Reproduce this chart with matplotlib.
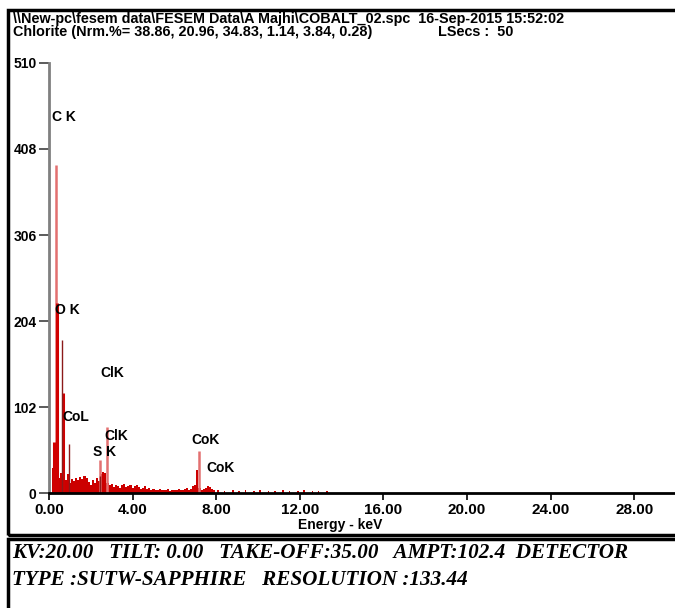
import numpy as np
import matplotlib
matplotlib.use('Agg')
import matplotlib.pyplot as plt
from matplotlib.patches import Rectangle

# 배경 스펙트럼 (0.2 keV부터 0.1 keV 간격)
bg_start = 0.2
bg_counts = [30, 25, 22, 18, 24, 20, 16, 22, 12, 17,
             14, 18, 15, 19, 17, 20, 18, 13, 10, 16,
             12, 18, 14, 22, 25, 24, 12, 9, 11, 7,
             10, 8, 6, 9, 11, 7, 8, 10, 6, 8,
             9, 7, 5, 6, 8, 5, 6, 4, 5, 3,
             4, 5, 3, 4, 3, 5, 2, 4, 3, 4,
             5, 3, 4, 5, 6, 4, 5, 8, 10, 27,
             6, 4, 5, 6, 8, 7, 5, 3]
tail_kev = [8.1, 8.4, 8.8, 9.1, 9.4, 9.8, 10.1, 10.5, 10.8, 11.2, 11.5, 11.9, 12.2, 12.6, 12.9, 13.3]
tail_counts = [3, 2, 3, 2, 3, 2, 3, 2, 2, 3, 2, 2, 3, 2, 2, 2]

# 피크 (밝은 빨강, 진한 빨강, 어두운 선)
light_kev = [0.35, 2.44, 2.78, 7.16]
light_counts = [389, 39, 78, 50]
red_kev = [0.24, 0.40, 0.69]
red_counts = [60, 225, 119]
dark_kev = [0.64, 0.96, 2.44]
dark_counts = [181, 58, 20]

# 원소 라벨
labels = ['C K', 'O K', 'ClK', 'CoL', 'ClK', 'S K', 'CoK', 'CoK']
label_x = [0.14, 0.29, 2.44, 0.62, 2.63, 2.10, 6.79, 7.51]
label_y = [446, 217, 142, 90, 68, 49, 63, 30]

yticks = [0, 102, 204, 306, 408, 510]
xticks = [0, 4, 8, 12, 16, 20, 24, 28]

fig = plt.figure(figsize=(6.75, 6.08), dpi=100)
ax = fig.add_axes([49 / 675, 0.1891, 627 / 675, 0.7073])

bg_kev = bg_start + 0.1 * np.arange(len(bg_counts))
ax.bar(bg_kev, bg_counts, width=0.1, align='center', color='#cc0000', linewidth=0)
ax.bar(tail_kev, tail_counts, width=0.08, color='#cc0000', linewidth=0)
ax.vlines(light_kev, 0, light_counts, color='#e37070', linewidth=1.8)
ax.vlines(red_kev, 0, red_counts, color='#d00000', linewidth=2.2)
ax.vlines(dark_kev, 0, dark_counts, color='#8b1a1a', linewidth=1.0)

for t, x, y in zip(labels, label_x, label_y):
    ax.text(x, y, t, fontsize=10, fontweight='bold', family='Liberation Sans', va='center', ha='left')

ax.set_xlim(0, 30)
ax.set_ylim(0, 510)
ax.set_xticks(xticks)
ax.set_xticklabels(['%.2f' % v for v in xticks])
ax.set_yticks(yticks)
ax.set_yticklabels([str(v) for v in yticks])
for lab in ax.get_xticklabels():
    lab.set_fontweight('bold')
    lab.set_family('Liberation Sans')
    lab.set_fontsize(11)
for lab in ax.get_yticklabels():
    lab.set_fontweight('bold')
    lab.set_family('Liberation Sans')
    lab.set_fontsize(10)
ax.tick_params(axis='x', direction='out', length=5, width=1.2, pad=2)
ax.tick_params(axis='y', direction='out', length=7, width=1.2, pad=2, color='#404040')
ax.spines['top'].set_visible(False)
ax.spines['right'].set_visible(False)
ax.spines['left'].set_color('#808080')
ax.spines['left'].set_linewidth(2)
ax.spines['bottom'].set_linewidth(2)
ax.patch.set_alpha(0)

fig.text(340 / 675, 1 - 525 / 608, 'Energy - keV', fontsize=10, fontweight='bold',
         family='Liberation Sans', ha='center', va='center')

# 머리글
fig.text(13 / 675, 1 - 19 / 608, r'\\New-pc\fesem data\FESEM Data\A Majhi\COBALT_02.spc  16-Sep-2015 15:52:02',
         fontsize=10.4, fontweight='bold', family='Liberation Sans', va='center')
fig.text(13 / 675, 1 - 32 / 608, 'Chlorite (Nrm.%= 38.86, 20.96, 34.83, 1.14, 3.84, 0.28)',
         fontsize=10.4, fontweight='bold', family='Liberation Sans', va='center')
fig.text(438 / 675, 1 - 32 / 608, 'LSecs :  50',
         fontsize=10.4, fontweight='bold', family='Liberation Sans', va='center')

# 테두리
fig.add_artist(Rectangle((8 / 675, 1 - 535 / 608), 1.0, (535 - 10) / 608, transform=fig.transFigure,
                         fill=False, edgecolor='black', linewidth=2.5))
fig.add_artist(Rectangle((8 / 675, -0.05), 1.0, 0.05 + (608 - 539) / 608, transform=fig.transFigure,
                         fill=False, edgecolor='black', linewidth=2.5))

# 바닥글
fig.text(12 / 675, 1 - 553 / 608, 'KV:20.00   TILT: 0.00   TAKE-OFF:35.00   AMPT:102.4  DETECTOR',
         fontsize=15.2, fontweight='bold', fontstyle='italic', family='Liberation Serif', va='center')
fig.text(12 / 675, 1 - 580 / 608, 'TYPE :SUTW-SAPPHIRE   RESOLUTION :133.44',
         fontsize=15.2, fontweight='bold', fontstyle='italic', family='Liberation Serif', va='center')

fig.savefig('out.png', dpi=100)
